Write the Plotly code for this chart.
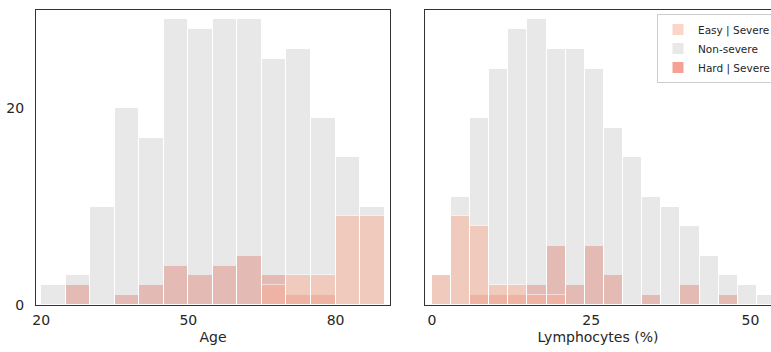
import plotly.graph_objects as go

# ---- data ----
age_bin_starts = [20, 25, 30, 35, 40, 45, 50, 55, 60, 65, 70, 75, 80, 85]
age_bin_width = 5
age_nonsevere = [2, 3, 10, 20, 17, 29, 28, 29, 29, 25, 26, 19, 15, 10]
age_easy_severe = [0, 0, 0, 0, 0, 0, 0, 0, 0, 2, 3, 3, 9, 9]
age_hard_severe = [0, 2, 0, 1, 2, 4, 3, 4, 5, 3, 1, 1, 0, 0]

lym_bin_starts = [0, 3, 6, 9, 12, 15, 18, 21, 24, 27, 30, 33, 36, 39, 42, 45, 48, 51]
lym_bin_width = 3
lym_nonsevere = [3, 11, 19, 24, 28, 29, 26, 26, 24, 18, 15, 11, 10, 8, 5, 3, 2, 1]
lym_easy_severe = [3, 9, 8, 2, 2, 1, 1, 0, 0, 0, 0, 0, 0, 0, 0, 0, 0, 0]
lym_hard_severe = [0, 0, 1, 1, 1, 2, 6, 2, 6, 3, 0, 1, 0, 2, 0, 1, 0, 0]

age_ticks = [20, 50, 80]
lym_ticks = [0, 25, 50]
count_ticks = [0, 20]

# ---- styles ----
COL_EASY = "#fbad95"
COL_NON = "#d3d3d3"
COL_HARD = "#ea472f"
ALPHA = 0.5
TXT = "#262626"
SPINE = "#333333"
FONT = "DejaVu Sans"

W, H = 771, 352
fig = go.Figure()


def add_panel(starts, width, non, easy, hard, xa, ya, show_legend):
    centers = [s + width / 2 for s in starts]
    # drawing order: Hard (bottom), Non-severe, Easy (top)
    series = [
        ("Hard | Severe", hard, COL_HARD, 3),
        ("Non-severe", non, COL_NON, 2),
        ("Easy | Severe", easy, COL_EASY, 1),
    ]
    for name, vals, col, rank in series:
        fig.add_trace(go.Bar(
            x=centers, y=vals, width=[width] * len(vals),
            name=name, legendrank=rank, legendgroup=name,
            showlegend=show_legend,
            marker=dict(color=col, line=dict(color="white", width=1)),
            opacity=ALPHA,
            xaxis=xa, yaxis=ya,
        ))


add_panel(age_bin_starts, age_bin_width, age_nonsevere, age_easy_severe,
          age_hard_severe, "x", "y", False)
add_panel(lym_bin_starts, lym_bin_width, lym_nonsevere, lym_easy_severe,
          lym_hard_severe, "x2", "y2", True)

top, bottom = 10, 47
axis_common = dict(
    showgrid=False, zeroline=False, showline=True, linecolor=SPINE,
    linewidth=1.2, ticks="", tickfont=dict(family=FONT, size=14, color=TXT),
    title_font=dict(family=FONT, size=14, color=TXT),
)

fig.update_layout(
    width=W, height=H,
    margin=dict(l=0, r=0, t=top, b=bottom, autoexpand=False),
    paper_bgcolor="white", plot_bgcolor="white",
    barmode="overlay", bargap=0,
    font=dict(family=FONT, color=TXT),
    xaxis=dict(domain=[36 / W, 390 / W], range=[18.94, 91.1],
               tickvals=age_ticks, mirror=True, title_text="Age",
               title_standoff=5, ticklabelstandoff=2, **axis_common),
    yaxis=dict(range=[0, 29.95], tickvals=count_ticks, mirror=True,
               ticklabelstandoff=8, **axis_common),
    xaxis2=dict(domain=[425 / W, 1.0], range=[-1.08, 53.22],
                tickvals=lym_ticks, mirror=True, anchor="y2",
                title_text="Lymphocytes (%)", title_standoff=5,
                ticklabelstandoff=2, **axis_common),
    yaxis2=dict(range=[0, 29.95], tickvals=count_ticks, anchor="x2",
                matches="y", showticklabels=False, mirror=False,
                **axis_common),
    legend=dict(
        x=657 / W, xanchor="left", y=1 - 4 / (H - top - bottom), yanchor="top",
        bgcolor="rgba(255,255,255,0.8)", bordercolor="#cccccc", borderwidth=1,
        font=dict(family=FONT, size=10.5, color=TXT),
        tracegroupgap=0, itemwidth=30, traceorder="normal",
    ),
    showlegend=True,
)

fig.write_html("out.html")
